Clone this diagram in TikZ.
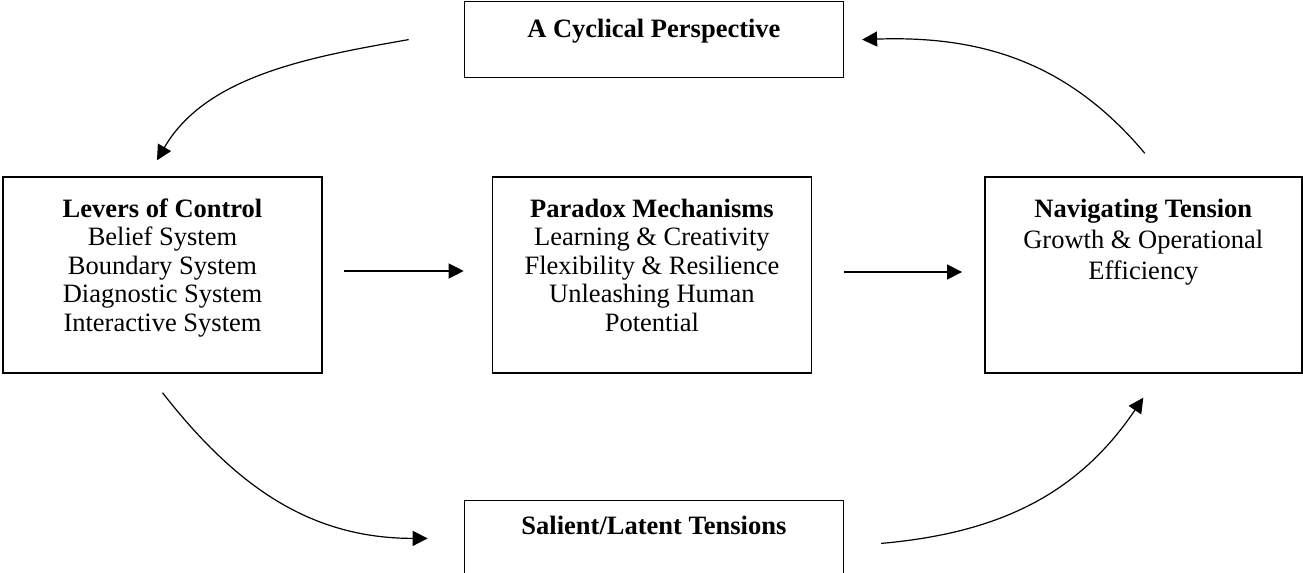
\documentclass[tikz,border=0pt]{standalone}
\usepackage{fontspec}
\setmainfont{Liberation Serif}
\usetikzlibrary{arrows.meta, positioning}

\begin{document}
\begin{tikzpicture}[x=0.5pt, y=0.5pt,
  box/.style={draw, rectangle, line width=0.7pt, minimum width=159.5pt, minimum height=98pt, inner sep=0pt},
  flatbox/.style={draw, rectangle, line width=0.7pt, minimum width=189.5pt, minimum height=38pt, inner sep=0pt},
  txt/.style={anchor=north, align=center, inner sep=0pt, font=\fontsize{13.25pt}{14.25pt}\selectfont},
  flow/.style={-{Triangle[length=7.5pt, width=7.5pt]}, line width=0.6pt}]
  \useasboundingbox (0,0) rectangle (1303,-573);

  \node (levers) [box] at (162.5,-275) {};
  \node (paradox) [box, right=84.5pt of levers] {};
  \node (navigating) [box, minimum width=158.5pt, right=86pt of paradox] {};
  \node (cyclical) [flatbox, above=49pt of paradox, xshift=1pt] {};
  \node (salient) [flatbox, below=63pt of paradox, xshift=1pt] {};

  \node (cyclicaltext) [txt] at ([yshift=-9pt]cyclical.north) {\textbf{A Cyclical Perspective}};
  \node (leverstext) [txt] at ([yshift=-11pt]levers.north) {\textbf{Levers of Control}\\Belief System\\Boundary System\\Diagnostic System\\Interactive System};
  \node (paradoxtext) [txt] at ([yshift=-11pt]paradox.north) {\textbf{Paradox Mechanisms}\\Learning \& Creativity\\Flexibility \& Resilience\\Unleashing Human\\Potential};
  \node (navigatingtext) [txt, font=\fontsize{13.25pt}{15.5pt}\selectfont] at ([yshift=-11pt]navigating.north) {\textbf{Navigating Tension}\\Growth \& Operational\\Efficiency};
  \node (salienttext) [txt] at ([yshift=-8pt]salient.north) {\textbf{Salient/Latent Tensions}};

  \draw[flow, shorten <=10.5pt, shorten >=14pt] ([yshift=2pt]levers.east) -- ([yshift=2pt]paradox.west);
  \draw[flow, shorten <=16pt, shorten >=11pt] ([yshift=1.5pt]paradox.east) -- ([yshift=1.5pt]navigating.west);

  \draw[flow] ([xshift=-27.5pt]cyclical.west) to[out=190, in=60, looseness=0.9] ([xshift=-2.75pt, yshift=8pt]levers.north);
  \draw[flow] ([xshift=0.75pt, yshift=11.5pt]navigating.north) to[out=130, in=2] ([xshift=9pt]cyclical.east);
  \draw[flow] ([yshift=-9.5pt]levers.south) to[out=-52, in=180] ([xshift=-18pt]salient.west);
  \draw[flow] ([xshift=18.5pt, yshift=-2.5pt]salient.east) to[out=5, in=-124] ([yshift=-12pt]navigating.south);
\end{tikzpicture}
\end{document}
